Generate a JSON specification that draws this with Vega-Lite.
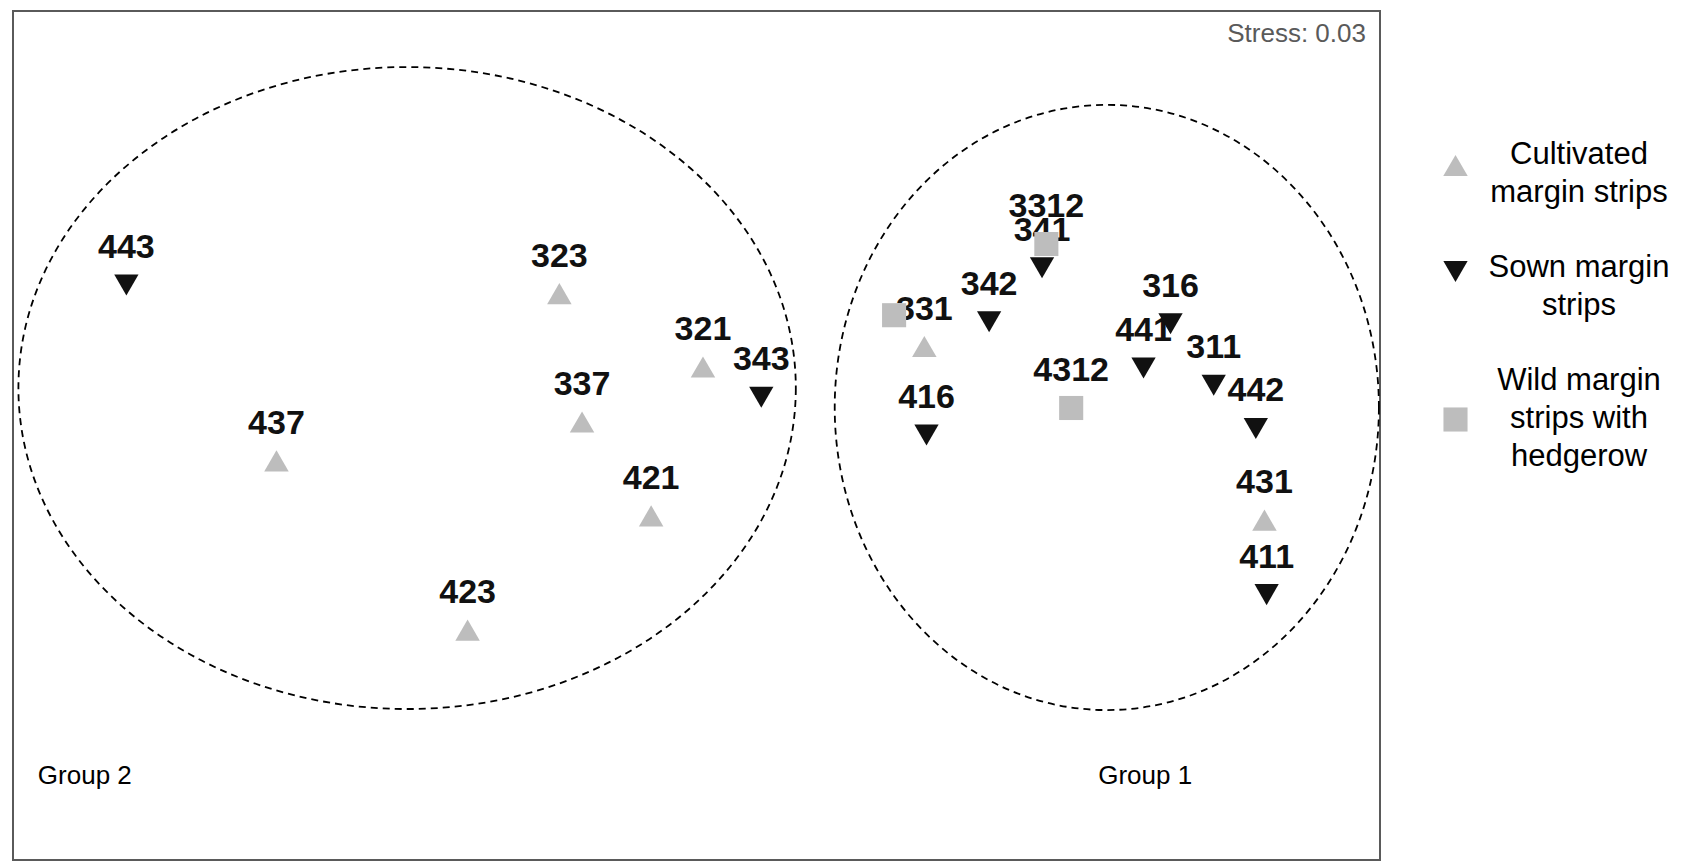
{
  "$schema": "https://vega.github.io/schema/vega-lite/v6.json",
  "width": 1367,
  "height": 849,
  "autosize": {"type": "none"},
  "padding": {"left": 13, "top": 11, "right": 313, "bottom": 3},
  "background": "white",
  "config": {
    "view": {"stroke": "#5a5a5a", "strokeWidth": 2},
    "font": "Liberation Sans"
  },
  "datasets": {
    "sites": [
      {"site": "323", "cat": "Cultivated margin strips", "MDS1": 518, "MDS2": 528},
      {"site": "321", "cat": "Cultivated margin strips", "MDS1": 651, "MDS2": 460},
      {"site": "337", "cat": "Cultivated margin strips", "MDS1": 539, "MDS2": 409},
      {"site": "437", "cat": "Cultivated margin strips", "MDS1": 256, "MDS2": 373},
      {"site": "421", "cat": "Cultivated margin strips", "MDS1": 603, "MDS2": 322},
      {"site": "423", "cat": "Cultivated margin strips", "MDS1": 433, "MDS2": 216},
      {"site": "331", "cat": "Cultivated margin strips", "MDS1": 856, "MDS2": 479},
      {"site": "431", "cat": "Cultivated margin strips", "MDS1": 1171, "MDS2": 318},
      {"site": "443", "cat": "Sown margin strips", "MDS1": 117, "MDS2": 536},
      {"site": "343", "cat": "Sown margin strips", "MDS1": 705, "MDS2": 432},
      {"site": "342", "cat": "Sown margin strips", "MDS1": 916, "MDS2": 502},
      {"site": "341", "cat": "Sown margin strips", "MDS1": 965, "MDS2": 552},
      {"site": "316", "cat": "Sown margin strips", "MDS1": 1084, "MDS2": 500},
      {"site": "441", "cat": "Sown margin strips", "MDS1": 1059, "MDS2": 459},
      {"site": "311", "cat": "Sown margin strips", "MDS1": 1124, "MDS2": 443},
      {"site": "442", "cat": "Sown margin strips", "MDS1": 1163, "MDS2": 403},
      {"site": "416", "cat": "Sown margin strips", "MDS1": 858, "MDS2": 397},
      {"site": "411", "cat": "Sown margin strips", "MDS1": 1173, "MDS2": 249},
      {"site": "3312", "cat": "Wild margin strips with hedgerow", "MDS1": 969, "MDS2": 574},
      {"site": "4312", "cat": "Wild margin strips with hedgerow", "MDS1": 992, "MDS2": 422},
      {"site": "", "cat": "Wild margin strips with hedgerow", "MDS1": 828, "MDS2": 508}
    ],
    "groups": [
      {"group": "Group 2", "cx": 377, "cy": 440.5, "lx": 35, "ly": 81},
      {"group": "Group 1", "cx": 1025, "cy": 422.5, "lx": 1017, "ly": 81}
    ],
    "notes": [{"text": "Stress: 0.03", "x": 1265, "y": 769}]
  },
  "layer": [
    {
      "data": {"name": "groups"},
      "transform": [{"filter": "datum.group == 'Group 2'"}],
      "mark": {"type": "point", "filled": false, "stroke": "black", "strokeWidth": 1.8, "strokeDash": [7, 5], "opacity": 1, "size": 604351,
        "shape": "M1,0 C1,0.4561 0.5523,0.8258 0,0.8258 C-0.5523,0.8258 -1,0.4561 -1,0 C-1,-0.4561 -0.5523,-0.8258 0,-0.8258 C0.5523,-0.8258 1,-0.4561 1,0 Z"},
      "encoding": {
        "x": {"field": "cx", "type": "quantitative", "scale": {"domain": [12, 1278], "zero": false, "nice": false}, "axis": null},
        "y": {"field": "cy", "type": "quantitative", "scale": {"domain": [3, 790], "zero": false, "nice": false}, "axis": null}
      }
    },
    {
      "data": {"name": "groups"},
      "transform": [{"filter": "datum.group == 'Group 1'"}],
      "mark": {"type": "point", "filled": false, "stroke": "black", "strokeWidth": 1.8, "strokeDash": [7, 5], "opacity": 1, "size": 366267,
        "shape": "M0.8992,0 C0.8992,0.5523 0.4966,1 0,1 C-0.4966,1 -0.8992,0.5523 -0.8992,0 C-0.8992,-0.5523 -0.4966,-1 0,-1 C0.4966,-1 0.8992,-0.5523 0.8992,0 Z"},
      "encoding": {
        "x": {"field": "cx", "type": "quantitative"},
        "y": {"field": "cy", "type": "quantitative"}
      }
    },
    {
      "data": {"name": "sites"},
      "mark": {"type": "text", "fontWeight": "bold", "fontSize": 34, "color": "#111", "dy": -37, "baseline": "middle", "align": "center"},
      "encoding": {
        "x": {"field": "MDS1", "type": "quantitative"},
        "y": {"field": "MDS2", "type": "quantitative"},
        "text": {"field": "site", "type": "nominal"}
      }
    },
    {
      "data": {"name": "sites"},
      "mark": {"type": "point", "filled": true, "opacity": 1, "strokeWidth": 0},
      "encoding": {
        "x": {"field": "MDS1", "type": "quantitative"},
        "y": {"field": "MDS2", "type": "quantitative"},
        "shape": {"field": "cat", "type": "nominal",
          "scale": {"domain": ["Cultivated margin strips", "Sown margin strips", "Wild margin strips with hedgerow"], "range": ["triangle-up", "triangle-down", "square"]},
          "legend": {"title": null, "orient": "none", "legendX": 1427, "legendY": 139, "symbolSize": 1100, "symbolStrokeWidth": 0, "symbolOpacity": 1,
            "labelFontSize": 31, "labelColor": "black", "labelAlign": "center", "labelOffset": 108, "rowPadding": 43, "padding": 0, "labelLimit": 600,
            "labelExpr": "datum.label == 'Cultivated margin strips' ? ['Cultivated', 'margin strips'] : datum.label == 'Sown margin strips' ? ['Sown margin', 'strips'] : ['Wild margin', 'strips with', 'hedgerow']",
            "encode": {"labels": {"update": {"lineHeight": {"value": 38}, "dy": {"signal": "datum.value == 'Wild margin strips with hedgerow' ? -39 : datum.value == 'Sown margin strips' ? -4 : -11"}}}}}},
        "color": {"field": "cat", "type": "nominal",
          "scale": {"domain": ["Cultivated margin strips", "Sown margin strips", "Wild margin strips with hedgerow"], "range": ["#bdbdbd", "#111111", "#bdbdbd"]},
          "legend": {"title": null, "orient": "none", "legendX": 1427, "legendY": 139, "symbolSize": 1100, "symbolStrokeWidth": 0, "symbolOpacity": 1,
            "labelFontSize": 31, "labelColor": "black", "labelAlign": "center", "labelOffset": 108, "rowPadding": 43, "padding": 0, "labelLimit": 600,
            "labelExpr": "datum.label == 'Cultivated margin strips' ? ['Cultivated', 'margin strips'] : datum.label == 'Sown margin strips' ? ['Sown margin', 'strips'] : ['Wild margin', 'strips with', 'hedgerow']",
            "encode": {"labels": {"update": {"lineHeight": {"value": 38}, "dy": {"signal": "datum.value == 'Wild margin strips with hedgerow' ? -39 : datum.value == 'Sown margin strips' ? -4 : -11"}}}}}},
        "size": {"field": "cat", "type": "nominal",
          "scale": {"domain": ["Cultivated margin strips", "Sown margin strips", "Wild margin strips with hedgerow"], "range": [600, 580, 470]},
          "legend": null}
      }
    },
    {
      "data": {"name": "groups"},
      "mark": {"type": "text", "fontSize": 26, "color": "black", "align": "left", "baseline": "middle"},
      "encoding": {
        "x": {"field": "lx", "type": "quantitative"},
        "y": {"field": "ly", "type": "quantitative"},
        "text": {"field": "group", "type": "nominal"}
      }
    },
    {
      "data": {"name": "notes"},
      "mark": {"type": "text", "fontSize": 26, "color": "#5a5a5a", "align": "right", "baseline": "middle"},
      "encoding": {
        "x": {"field": "x", "type": "quantitative"},
        "y": {"field": "y", "type": "quantitative"},
        "text": {"field": "text", "type": "nominal"}
      }
    }
  ]
}
